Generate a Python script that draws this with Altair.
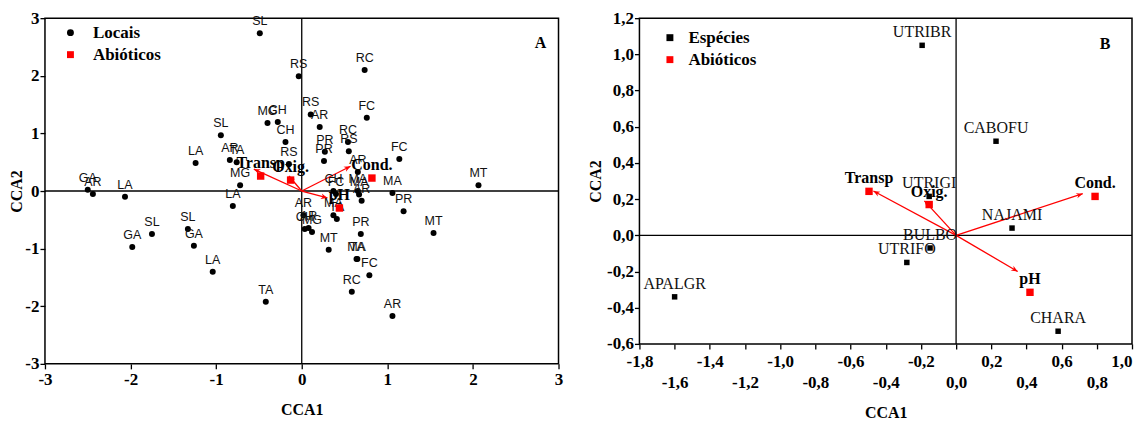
import math
import altair as alt
import pandas as pd

# ---------------- Panel A : sites (Locais) ----------------
site_names = ["SL", "RS", "RC", "RS", "AR", "FC", "MG", "CH", "SL", "CH",
              "RC", "RS", "PR", "PR", "FC", "LA", "AR", "TA", "RS", "AR",
              "MG", "LA", "GA", "AR", "LA", "MT", "MA", "PR", "CH", "FC",
              "MA", "MA", "AR", "MA", "TA", "AR", "CH", "AR", "MG", "MT",
              "PR", "MT", "MA", "TA", "FC", "RC", "AR", "SL", "SL", "GA",
              "GA", "LA", "TA"]
site_x = [-0.49, -0.035, 0.735, 0.105, 0.21, 0.76, -0.40, -0.28, -0.945, -0.19,
          0.54, 0.55, 0.27, 0.26, 1.14, -1.24, -0.84, -0.76, -0.15, 0.655,
          -0.72, -0.805, -2.50, -2.44, -2.065, 2.065, 1.06, 1.19, 0.37, 0.40,
          0.655, 0.67, 0.70, 0.37, 0.41, 0.02, 0.035, 0.08, 0.12, 0.315,
          0.69, 1.54, 0.64, 0.65, 0.79, 0.585, 1.06, -1.75, -1.33, -1.98,
          -1.26, -1.04, -0.42]
site_y = [2.74, 1.99, 2.10, 1.33, 1.11, 1.27, 1.18, 1.20, 0.97, 0.85,
          0.85, 0.69, 0.68, 0.52, 0.555, 0.485, 0.54, 0.50, 0.47, 0.33,
          0.10, -0.26, 0.02, -0.05, -0.10, 0.10, -0.035, -0.35, 0.00, -0.05,
          0.00, -0.06, -0.17, -0.42, -0.485, -0.42, -0.66, -0.64, -0.71, -1.02,
          -0.745, -0.73, -1.18, -1.18, -1.46, -1.75, -2.17, -0.745, -0.66, -0.97,
          -0.95, -1.40, -1.92]

abio_names = ["Transp", "Oxig.", "Cond.", "pH"]
a_abio_x = [-0.48, -0.13, 0.82, 0.44]
a_abio_y = [0.26, 0.19, 0.225, -0.295]
a_tip_x = [-0.56, -0.15, 0.57, 0.30]
a_tip_y = [0.38, 0.26, 0.43, -0.12]

# ---------------- Panel B : species (Espécies) ----------------
sp_names = ["UTRIBR", "CABOFU", "UTRIGI", "NAJAMI", "BULBO", "UTRIFO", "APALGR", "CHARA"]
sp_x = [-0.193, 0.227, -0.153, 0.318, -0.148, -0.28, -1.60, 0.58]
sp_y = [1.05, 0.52, 0.215, 0.04, -0.07, -0.15, -0.34, -0.53]

b_abio_x = [-0.495, -0.153, 0.79, 0.42]
b_abio_y = [0.243, 0.17, 0.215, -0.315]
b_tip_x = [-0.47, -0.18, 0.72, 0.35]
b_tip_y = [0.245, 0.19, 0.23, -0.20]

a_ticks = [-3, -2, -1, 0, 1, 2, 3]
b_xticks = [round(-1.8 + 0.2 * i, 1) for i in range(15)]
b_yticks = [round(-0.6 + 0.2 * i, 1) for i in range(10)]

# ---------------- layout constants ----------------
A_W, A_H = 514, 346
B_W, B_H = 493, 326
A_XD, A_YD = [-3, 3], [-3, 3]
B_XD, B_YD = [-1.8, 1.0], [-0.6, 1.2]
SERIF = "Liberation Serif"
SANS = "Liberation Sans"
ARROW = "M0,0L-0.42,1L0,0.7L0.42,1Z"


def angles(tx, ty, xd, yd, w, h):
    sx = w / (xd[1] - xd[0])
    sy = h / (yd[1] - yd[0])
    return [(math.degrees(math.atan2(a * sx, b * sy)) + 360) % 360 for a, b in zip(tx, ty)]


A_LBL = "(datum.value < 0 ? '-' : '') + format(abs(datum.value), 'd')"
B_NUM = "((datum.value < -0.001) ? '-' : '') + replace(format(abs(datum.value), '.1f'), '.', ',')"
B_XLBL = "(round((datum.value + 1.8) * 5) % 2 == 1) ? ['', " + B_NUM + "] : " + B_NUM


def build(pts, abio, arrows, xd, yd, w, h, xaxis, yaxis, domain, shapes,
          pt_size, lab_font, lab_size, lab_dy, letter, letter_xy, legend_xy, leg_offset):
    def X(f):
        return alt.X(f + ":Q", scale=alt.Scale(domain=xd, nice=False, zero=False), axis=xaxis, title="CCA1")

    def Y(f):
        return alt.Y(f + ":Q", scale=alt.Scale(domain=yd, nice=False, zero=False), axis=yaxis, title="CCA2")

    leg = alt.Legend(title=None, orient="none", legendX=legend_xy[0], legendY=legend_xy[1],
                     labelFont=SERIF, labelFontSize=17, labelFontWeight="bold", labelColor="black",
                     symbolSize=48, rowPadding=4, labelOffset=leg_offset, padding=0, symbolStrokeWidth=0)
    col = alt.Color("grp:N", scale=alt.Scale(domain=domain, range=["black", "red"]), legend=leg)
    shp = alt.Shape("grp:N", scale=alt.Scale(domain=domain, range=shapes), legend=leg)

    vz = alt.Chart(pd.DataFrame({"x": [0]})).mark_rule(color="black", strokeWidth=1.3).encode(x=X("x"))
    hz = alt.Chart(pd.DataFrame({"y": [0]})).mark_rule(color="black", strokeWidth=1.3).encode(y=Y("y"))

    arr_lines = alt.Chart(arrows).mark_rule(color="red", strokeWidth=1.3).encode(
        x=X("x"), y=Y("y"), x2="tx:Q", y2="ty:Q")
    arr_heads = alt.Chart(arrows).mark_point(shape=ARROW, filled=True, color="red", size=170, opacity=1).encode(
        x=X("tx"), y=Y("ty"), angle=alt.Angle("ang:Q", scale=None))

    p = alt.Chart(pts).mark_point(filled=True, size=pt_size, opacity=1).encode(
        x=X("x"), y=Y("y"), color=col, shape=shp)
    a = alt.Chart(abio).mark_point(filled=True, size=55, opacity=1).encode(
        x=X("x"), y=Y("y"), color=col, shape=shp)
    pl = alt.Chart(pts).mark_text(font=lab_font, fontSize=lab_size, dy=lab_dy, color="#111").encode(
        x=X("x"), y=Y("y"), text="name:N")
    al = alt.Chart(abio).mark_text(font=SERIF, fontSize=16, fontWeight="bold", dy=-13, color="black").encode(
        x=X("x"), y=Y("y"), text="name:N")
    lt = alt.Chart(pd.DataFrame({"t": [letter]})).mark_text(
        font=SERIF, fontSize=16, fontWeight="bold", color="black").encode(
        x=alt.value(letter_xy[0]), y=alt.value(letter_xy[1]), text="t:N")
    return alt.layer(vz, hz, arr_lines, arr_heads, p, pl, a, al, lt).properties(width=w, height=h)


# ---------- data frames ----------
dfA = pd.DataFrame({"x": site_x, "y": site_y, "name": site_names, "grp": "Locais"})
abA = pd.DataFrame({"x": a_abio_x, "y": a_abio_y, "name": abio_names, "grp": "Abióticos"})
arA = pd.DataFrame({"x": 0.0, "y": 0.0, "tx": a_tip_x, "ty": a_tip_y,
                    "ang": angles(a_tip_x, a_tip_y, A_XD, A_YD, A_W, A_H)})

dfB = pd.DataFrame({"x": sp_x, "y": sp_y, "name": sp_names, "grp": "Espécies"})
abB = pd.DataFrame({"x": b_abio_x, "y": b_abio_y, "name": abio_names, "grp": "Abióticos"})
arB = pd.DataFrame({"x": 0.0, "y": 0.0, "tx": b_tip_x, "ty": b_tip_y,
                    "ang": angles(b_tip_x, b_tip_y, B_XD, B_YD, B_W, B_H)})

axA_x = alt.Axis(values=a_ticks, labelExpr=A_LBL, labelPadding=3, titlePadding=14)
axA_y = alt.Axis(values=a_ticks, labelExpr=A_LBL, labelPadding=1, titlePadding=0)
axB_x = alt.Axis(values=b_xticks, labelExpr=B_XLBL, labelPadding=5, titlePadding=14, labelLineHeight=21,
                 labelAlign={"condition": {"test": "datum.value > 0.95", "value": "right"}, "value": "center"})
axB_y = alt.Axis(values=b_yticks, labelExpr=B_NUM, labelPadding=1, titlePadding=3)

panelA = build(dfA, abA, arA, A_XD, A_YD, A_W, A_H, axA_x, axA_y,
               ["Locais", "Abióticos"], ["circle", "square"], 36, SANS, 12.5, -12,
               "A", (496, 25), (17, 6), 14)
panelB = build(dfB, abB, arB, B_XD, B_YD, B_W, B_H, axB_x, axB_y,
               ["Espécies", "Abióticos"], ["square", "square"], 30, SERIF, 16, -13,
               "B", (466, 26), (22, 11), 10)

chart = alt.hconcat(panelA, panelB, spacing=23).properties(
    padding={"left": 0, "top": 0, "right": 0, "bottom": 0}
).resolve_scale(color="independent", shape="independent").configure_view(
    stroke="black", strokeWidth=1.5
).configure_axis(
    domain=False, grid=False, tickColor="black", tickSize=5, tickWidth=1.3,
    labelFont=SERIF, labelFontSize=17, labelFontWeight="bold", labelColor="black",
    titleFont=SERIF, titleFontSize=16, titleFontWeight="bold", titleColor="black",
    labelFlush=False, labelOverlap=False
)

chart.save("out.html", embed_options={"renderer": "svg", "actions": False})
